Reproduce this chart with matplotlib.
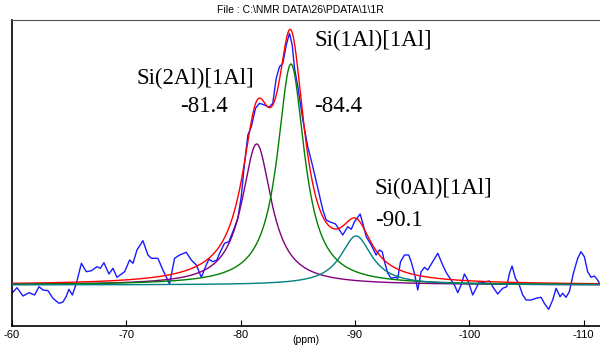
import numpy as np
import matplotlib
matplotlib.use("Agg")
import matplotlib.pyplot as plt

exp_ppm = [-60.03, -60.44, -60.96, -61.49, -61.98, -62.36, -62.71, -63.15, -63.58, -64.11,
           -64.46, -64.76, -64.98, -65.28, -65.63, -66.07, -66.50, -66.94, -67.43, -67.73,
           -68.04, -68.48, -68.83, -69.18, -69.85, -70.29, -70.58, -70.93, -71.45, -71.89,
           -72.19, -72.76, -73.20, -73.78, -74.22, -74.66, -75.24, -75.68, -76.12, -76.56,
           -76.99, -77.22, -77.57, -77.92, -78.16, -78.59, -78.97, -79.32, -79.76, -80.05,
           -80.34, -80.63, -80.93, -81.30, -81.65, -82.09, -82.47, -82.81, -83.11, -83.40,
           -83.69, -83.99, -84.27, -84.51, -84.71, -85.00, -85.44, -85.87, -86.31, -86.75,
           -87.19, -87.48, -87.77, -88.30, -88.93, -89.37, -89.67, -89.96, -90.45, -90.68,
           -90.98, -91.42, -91.85, -92.14, -92.38, -92.58, -92.87, -93.16, -93.54, -93.74,
           -93.98, -94.33, -94.70, -94.91, -95.20, -95.49, -95.79, -96.08, -96.36, -96.80,
           -97.24, -97.67, -98.02, -98.41, -98.70, -98.99, -99.28, -99.57, -99.86, -100.30,
           -100.59, -100.88, -101.17, -101.47, -101.76, -102.05, -102.48, -102.92, -103.27, -103.51,
           -103.74, -104.03, -104.32, -104.67, -104.97, -105.40, -105.84, -106.28, -106.56, -106.94,
           -107.29, -107.59, -107.94, -108.16, -108.46, -108.75, -109.10, -109.48, -109.77, -110.06,
           -110.35, -110.65, -110.94, -111.22, -111.37]
exp_int = [-7.7, -2.7, -11, -7.7, -10, -1.7, -5, -5.7, -13.3, -18.3,
           -17, -11, -4.3, -10, 1.7, 21.7, 13.3, 14.3, 18.3, 16.7,
           22.3, 11, 16.7, 7.7, 13.3, 25, 21.7, 35, 44.3, 30,
           26.7, 26.7, 15, 1, 26.7, 30, 32.7, 25, 20, 7.7,
           20, 25.7, 23.3, 25, 31.7, 41.7, 43.3, 53.3, 66.7, 88.3,
           121.7, 150, 158.3, 176.7, 181.7, 180, 177.7, 181.7, 206.7, 218.3,
           221.7, 240, 251.7, 240, 216.7, 198.3, 165, 138.3, 118.3, 96.7,
           75, 65, 63.3, 61, 50, 58.3, 55.7, 63.3, 71, 61.7,
           48.3, 40, 30, 35, 33.3, 23.3, 11.7, 6.7, 7.7, 6.7,
           23.3, 30, 30, 23.3, 11.7, -5, 13.3, 17.7, 15, 23.3,
           31.7, 20, 11.7, 5, 0, -7.7, 0, 11, 5, -10,
           -3.3, 3.3, 2.3, 3.3, 4, -1.7, -9, -3.3, -1.7, 11.7,
           19, 6.7, 1.7, -10, -15, -15, -13.3, -12.3, -18.3, -24.3,
           -15, -3.3, -11.7, -8.3, -12.3, -6.7, 11.7, 26.7, 33.3, 28.3,
           13.3, 7.7, 9, 5, 1.7]

# Lorentzian deconvolution components
sites = ["Si(2Al)[1Al]", "Si(1Al)[1Al]", "Si(0Al)[1Al]"]
centers = [-81.4, -84.4, -90.1]
heights = [141, 221, 49]
half_widths = [1.57, 1.44, 1.66]
comp_colors = ["#800080", "#008000", "#008080"]

ppm = np.linspace(-60.03, -111.43, 1200)
comps = [h * w**2 / ((ppm - c)**2 + w**2) for c, h, w in zip(centers, heights, half_widths)]
fit = np.sum(comps, axis=0)

fig = plt.figure(figsize=(6.0, 3.47), dpi=100)
ax = fig.add_axes([0.02, 1 - 326/347, 0.98, 306/347])

ax.plot(exp_ppm, exp_int, color="#1a1aff", lw=1.0, zorder=2)
ax.plot(ppm, fit, color="#ff0000", lw=1.0, zorder=3)
for order, (cmp, col) in enumerate(zip(comps, comp_colors)):
    ax.plot(ppm, cmp, color=col, lw=1.0, zorder=4 + order)

ax.set_xlim(-60.03, -111.43)
ax.set_ylim(-41, 265)
ax.set_xticks([-60, -70, -80, -90, -100, -110])
ax.set_xticklabels(["-60", "-70", "-80", "-90", "-100", "-110"])
ax.set_yticks([])
ax.tick_params(axis="x", direction="in", length=4, width=0.8, pad=3, labelsize=8)
for lab in ax.get_xticklabels():
    lab.set_family("Liberation Sans")
ax.set_xlabel("(ppm)", fontsize=7.5, family="Liberation Sans", labelpad=-3.5)
ax.spines["right"].set_visible(False)
ax.spines["top"].set_color("#555555")
for s in ["left", "bottom"]:
    ax.spines[s].set_linewidth(1.2)

fig.text(0.5, 1 - 10/347, r"File : C:\NMR DATA\26\PDATA\1\1R", ha="center", va="center",
         fontsize=7.5, family="Liberation Sans")

serif = dict(fontsize=16.5, family="Liberation Serif", va="center", ha="left")
ax.text(-86.50, 245, sites[1], **serif)
ax.text(-70.85, 207, sites[0], **serif)
ax.text(-74.70, 179, "-81.4", **serif)
ax.text(-86.40, 179, "-84.4", **serif)
ax.text(-91.75, 97, sites[2], **serif)
ax.text(-91.75, 64, "-90.1", **serif)

fig.savefig("out.png", dpi=100)
